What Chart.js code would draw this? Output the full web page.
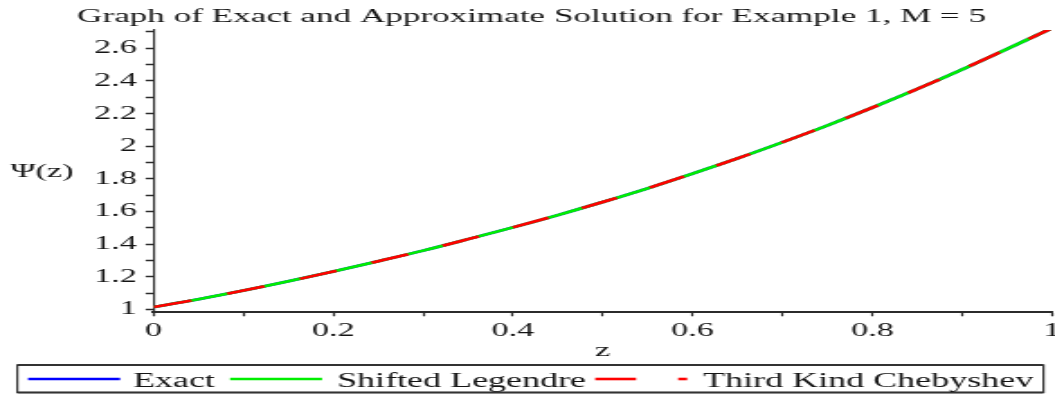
<!DOCTYPE html>
<html lang="en">
<head>
  <meta charset="UTF-8" />
  <title>Graph of Exact and Approximate Solution for Example 1, M = 5</title>
  <script src="https://cdn.jsdelivr.net/npm/chart.js"></script>
  <style>
    html, body {
      margin: 0;
      padding: 0;
      background: #fff;
      overflow: hidden;
    }
    /* the original plot is stretched sideways, so draw narrow and widen */
    #plot {
      display: block;
      transform: scaleX(1.8003);
      transform-origin: 0 0;
    }
  </style>
</head>
<body>
  <canvas id="plot" width="586" height="395"></canvas>
  <script>
// values
const zValues = [0, 0.05, 0.1, 0.15, 0.2, 0.25, 0.3, 0.35, 0.4, 0.45, 0.5,
                 0.55, 0.6, 0.65, 0.7, 0.75, 0.8, 0.85, 0.9, 0.95, 1];
const exactValues = [1.015, 1.062, 1.115, 1.172, 1.232, 1.295, 1.360, 1.430, 1.502, 1.578, 1.658,
                     1.742, 1.832, 1.925, 2.024, 2.127, 2.236, 2.350, 2.470, 2.596, 2.723];
const legendreValues = [1.015, 1.062, 1.115, 1.172, 1.232, 1.295, 1.360, 1.430, 1.502, 1.578, 1.658,
                        1.742, 1.832, 1.925, 2.024, 2.127, 2.236, 2.350, 2.470, 2.596, 2.723];
const chebyshevValues = [1.015, 1.062, 1.115, 1.172, 1.232, 1.295, 1.360, 1.430, 1.502, 1.578, 1.658,
                         1.742, 1.832, 1.925, 2.024, 2.127, 2.236, 2.350, 2.470, 2.596, 2.723];

const xTicks = [0, 0.1, 0.2, 0.3, 0.4, 0.5, 0.6, 0.7, 0.8, 0.9, 1];
const yTicks = [1, 1.1, 1.2, 1.3, 1.4, 1.5, 1.6, 1.7, 1.8, 1.9, 2, 2.1, 2.2, 2.3, 2.4, 2.5, 2.6, 2.7];

const seriesNames = ['Exact', 'Shifted Legendre', 'Third Kind Chebyshev'];
const seriesColors = ['#0000ff', '#00ee00', '#ff0000'];

const TITLE = 'Graph of Exact and Approximate Solution for Example 1, M = 5';
const Y_LABEL = '\u03A8(z)';
const FONT = '"Liberation Serif", "DejaVu Serif", serif';
const TEXT = '#141414';
const AXIS = '#2b2b2b';

const toPoints = vals => zValues.map((z, i) => ({ x: z, y: vals[i] }));
const fmt = v => String(Math.round(v * 10) / 10);

// title, horizontal y label and the boxed legend
const decorations = {
  id: 'decorations',
  afterDraw(chart) {
    const ctx = chart.ctx;
    ctx.save();
    ctx.fillStyle = TEXT;
    ctx.textBaseline = 'alphabetic';

    ctx.font = '19.5px ' + FONT;
    ctx.textAlign = 'center';
    ctx.fillText(TITLE, 295.3, 21.5);

    ctx.font = '19px ' + FONT;
    ctx.fillText(Y_LABEL, 23.2, 177);

    // legend box
    ctx.strokeStyle = '#333';
    ctx.lineWidth = 1.2;
    ctx.strokeRect(9.6, 365, 570, 27.5);
    ctx.lineWidth = 2;
    ctx.beginPath();
    ctx.moveTo(9.6, 365); ctx.lineTo(579.6, 365);
    ctx.moveTo(9.6, 392.5); ctx.lineTo(579.6, 392.5);
    ctx.stroke();

    const ly = 379;
    ctx.lineWidth = 2.6;
    ctx.strokeStyle = seriesColors[0];
    ctx.beginPath(); ctx.moveTo(15.6, ly); ctx.lineTo(66.7, ly); ctx.stroke();
    ctx.strokeStyle = seriesColors[1];
    ctx.beginPath(); ctx.moveTo(127.8, ly); ctx.lineTo(178.9, ly); ctx.stroke();
    ctx.strokeStyle = seriesColors[2];
    ctx.beginPath(); ctx.moveTo(330.6, ly); ctx.lineTo(353.3, ly); ctx.stroke();
    ctx.beginPath(); ctx.moveTo(376.7, ly); ctx.lineTo(381.7, ly); ctx.stroke();

    ctx.font = '20px ' + FONT;
    ctx.textAlign = 'left';
    ctx.fillStyle = TEXT;
    ctx.fillText(seriesNames[0], 73.9, 386.5);
    ctx.fillText(seriesNames[1], 187.2, 386.5);
    ctx.fillText(seriesNames[2], 390.6, 386.5);
    ctx.restore();
  }
};

new Chart(document.getElementById('plot'), {
  type: 'line',
  data: {
    datasets: [
      {
        label: seriesNames[0],
        data: toPoints(exactValues),
        borderColor: seriesColors[0],
        borderWidth: 2.6,
        order: 3
      },
      {
        label: seriesNames[1],
        data: toPoints(legendreValues),
        borderColor: seriesColors[1],
        borderWidth: 2.6,
        order: 2
      },
      {
        label: seriesNames[2],
        data: toPoints(chebyshevValues),
        borderColor: seriesColors[2],
        borderWidth: 2.6,
        borderDash: [22, 21],
        order: 1
      }
    ]
  },
  options: {
    responsive: false,
    animation: false,
    events: [],
    elements: {
      point: { radius: 0 },
      line: { tension: 0.3, cubicInterpolationMode: 'monotone' }
    },
    layout: {
      padding: { top: 30, left: 0, right: 1.7, bottom: 31 }
    },
    plugins: {
      legend: { display: false },
      title: { display: false },
      tooltip: { enabled: false }
    },
    scales: {
      x: {
        type: 'linear',
        min: 0,
        max: 1,
        afterBuildTicks: scale => { scale.ticks = xTicks.map(v => ({ value: v })); },
        afterFit: scale => {
          scale.height = 51.7;
          scale.paddingLeft = 0;
          scale.paddingRight = 0;
        },
        border: { display: true, color: AXIS, width: 2 },
        grid: {
          drawOnChartArea: false,
          drawTicks: true,
          tickLength: 4,
          tickColor: AXIS,
          tickWidth: 1.2
        },
        ticks: {
          autoSkip: false,
          maxRotation: 0,
          padding: 3,
          color: TEXT,
          font: { family: FONT, size: 19 },
          callback: (v, i) => (i % 2 === 0 ? fmt(v) : '')
        },
        title: {
          display: true,
          text: 'z',
          color: TEXT,
          font: { family: FONT, size: 19, lineHeight: 1 },
          padding: { top: 0, bottom: 3.5 }
        }
      },
      y: {
        type: 'linear',
        min: 0.982,
        max: 2.712,
        afterBuildTicks: scale => { scale.ticks = yTicks.map(v => ({ value: v })); },
        afterFit: scale => {
          scale.width = 85.3;
          scale.paddingTop = 0;
          scale.paddingBottom = 0;
        },
        border: { display: true, color: AXIS, width: 1.1 },
        grid: {
          drawOnChartArea: false,
          drawTicks: true,
          tickLength: 4.4,
          tickColor: AXIS,
          tickWidth: 1.5
        },
        ticks: {
          autoSkip: false,
          padding: 5,
          color: TEXT,
          font: { family: FONT, size: 19 },
          callback: (v, i) => (i % 2 === 0 ? fmt(v) : '')
        }
      }
    }
  },
  plugins: [decorations]
});
  </script>
</body>
</html>
